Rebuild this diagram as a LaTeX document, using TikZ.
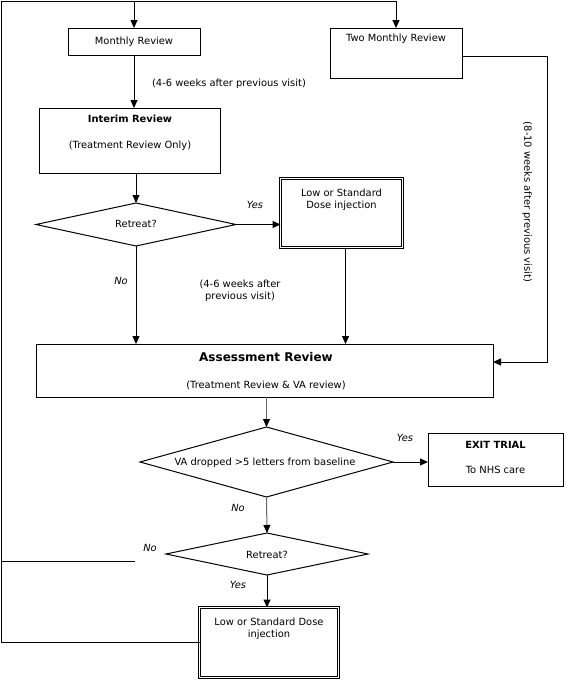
\documentclass[tikz,border=0pt]{standalone}
\usepackage{fontspec}
\setmainfont{DejaVu Sans}
\usetikzlibrary{arrows.meta,shapes.geometric}
\begin{document}
\begin{tikzpicture}[x=1pt,y=-1pt,
  every node/.style={font=\fontsize{9.9}{11.8}\selectfont},
  box/.style={draw, line width=1pt, inner sep=0pt, outer sep=0pt},
  dbox/.style={draw, double, line width=0.85pt, double distance=1.2pt, inner sep=0pt, outer sep=0pt},
  dia/.style={draw, diamond, line width=1pt, inner sep=0pt, outer sep=0pt},
  txt/.style={inner sep=0pt, align=center},
  lbl/.style={inner sep=0pt, font=\fontsize{9.9}{11.8}\selectfont\itshape},
  conn/.style={line width=1pt},
  arr/.style={line width=1pt, -{Triangle[length=8pt,width=7pt]}},
  garr/.style={line width=1pt, draw=black!60, -{Triangle[length=8pt,width=7pt,color=black]}}]
\useasboundingbox (0,0) rectangle (567,680);

% boxes
\node[box, minimum width=132, minimum height=27] (monthly) at (134,41.5) {Monthly Review};
\node[box, minimum width=132, minimum height=50] (two) at (396,53) {};
\node[txt] (twot) at (396,39) {Two Monthly Review};
\node[box, minimum width=181, minimum height=65] (interim) at (130,140.5) {};
\node[txt] (interimt) at (130,119) {\bfseries Interim Review};
\node[txt] (interims) at (130,146) {(Treatment Review Only)};
\node[dia, minimum width=200, minimum height=43] (r1) at (136,224.5) {};
\node[txt] (r1t) at (136,224) {Retreat?};
\node[dbox, minimum width=122, minimum height=69] (inj1) at (341.5,213) {};
\node[txt] (inj1t) at (341.5,199.5) {Low or Standard\\Dose injection};
\node[box, minimum width=457, minimum height=53] (asm) at (264.5,370.5) {};
\node[txt] (asmt) at (266,357) {\fontsize{12}{14}\selectfont\bfseries Assessment Review};
\node[txt] (asms) at (266,385) {(Treatment Review \& VA review)};
\node[dia, minimum width=253, minimum height=70] (va) at (266.5,462) {};
\node[txt] (vat) at (265,463) {VA dropped >5 letters from baseline};
\node[box, minimum width=135, minimum height=53] (exit) at (495.5,459.5) {};
\node[txt] (exitt) at (495.5,445) {\bfseries EXIT TRIAL};
\node[txt] (exits) at (495.5,470) {To NHS care};
\node[dia, minimum width=202, minimum height=42] (r2) at (267,554) {};
\node[txt] (r2t) at (267,555) {Retreat?};
\node[dbox, minimum width=139, minimum height=70] (inj2) at (269,642.5) {};
\node[txt] (inj2t) at (269,629) {Low or Standard Dose\\injection};

% labels
\node[txt] (l1) at (229,84) {(4-6 weeks after previous visit)};
\node[lbl] (ly1) at (255,205) {Yes};
\node[lbl] (ln1) at (121,281) {No};
\node[txt] (l2) at (240,290.5) {(4-6 weeks after\\previous visit)};
\node[txt, rotate=-90] (l3) at (527,202) {(8-10 weeks after previous visit)};
\node[lbl] (ly2) at (405,438) {Yes};
\node[lbl] (ln2) at (238,508) {No};
\node[lbl] (ln3) at (150,548) {No};
\node[lbl] (ly3) at (238,585) {Yes};

% coordinates
\coordinate (tl) at (1,1);
\coordinate (rr) at (547,56);
\coordinate (nr) at (135,561);
\coordinate (ae) at ([yshift=8.5pt]asm.east);
\coordinate (te) at ([yshift=-3pt]two.east);
\coordinate (i1s) at ([xshift=4pt]inj1.south);

% connectors
\draw[arr] (inj2.west) -- (inj2.west -| tl) -- (tl) -| (two.north);
\draw[arr] (tl -| monthly.north) -- (monthly.north);
\draw[conn] (nr) -- (nr -| tl);
\draw[arr] (monthly.south) -- (monthly.south |- interim.north);
\draw[arr] (te) -- (rr) -- (rr |- ae) -- (ae);
\draw[arr] (interim.south -| r1.north) -- (r1.north);
\draw[arr] (r1.east) -- (r1.east -| inj1.west);
\draw[arr] (r1.south) -- (r1.south |- asm.north);
\draw[arr] (i1s) -- (i1s |- asm.north);
\draw[garr] (asm.south -| va.north) -- (va.north);
\draw[arr] (va.east) -- (va.east -| exit.west);
\draw[garr] (va.south) -- (r2.north);
\draw[arr] (r2.south) -- (r2.south |- inj2.north);
\end{tikzpicture}
\end{document}
